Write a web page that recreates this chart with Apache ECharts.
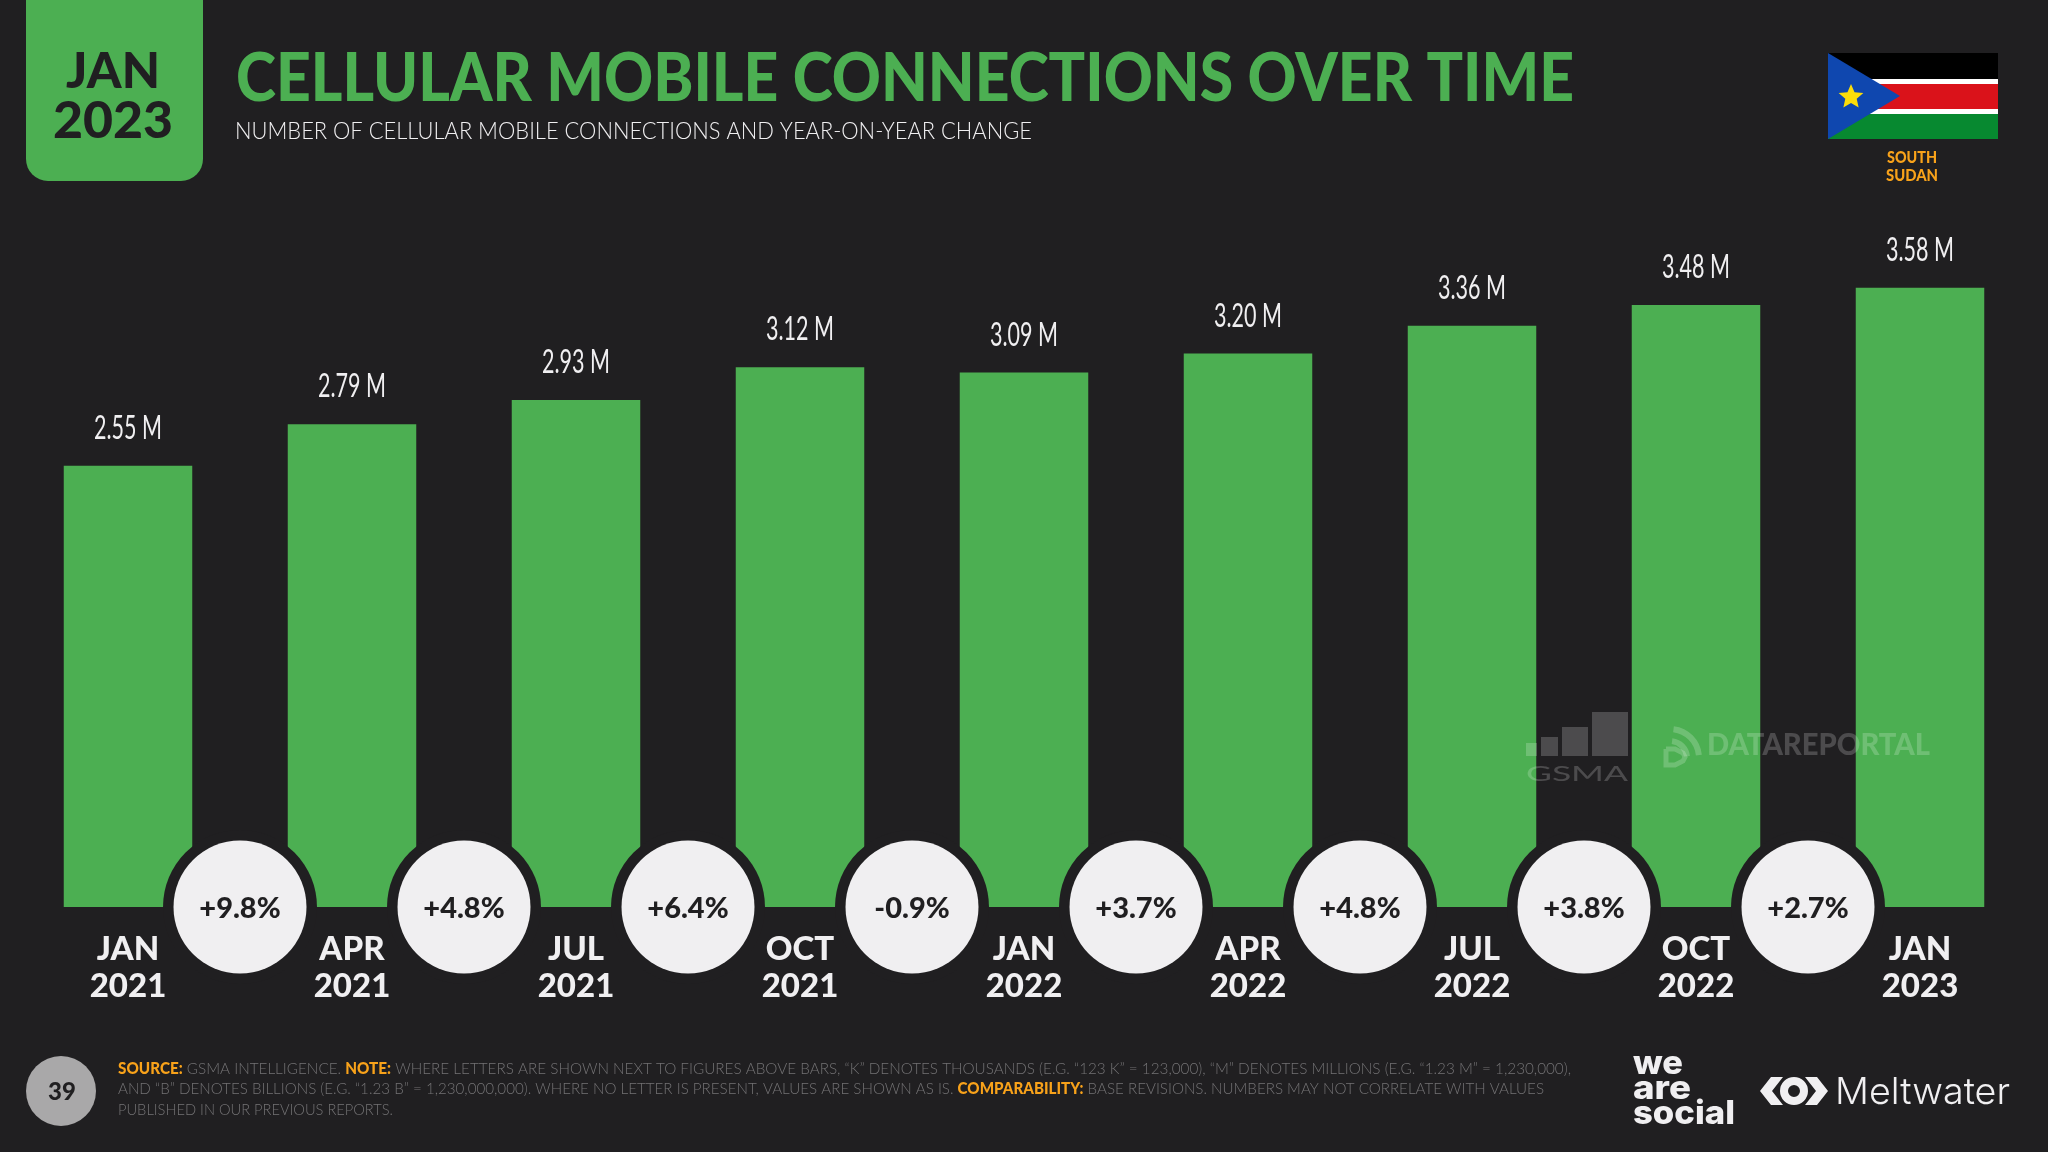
<!DOCTYPE html>
<html>
<head>
<meta charset="utf-8">
<title>Cellular mobile connections over time</title>
<script src="https://cdn.jsdelivr.net/npm/echarts@6/dist/echarts.min.js"></script>
<style>
  html, body { margin: 0; padding: 0; background: #201f21; }
  #chart { width: 2048px; height: 1152px; }
</style>
</head>
<body>
<div id="chart"></div>
<script>
// data
const periods = ["JAN\n2021", "APR\n2021", "JUL\n2021", "OCT\n2021", "JAN\n2022", "APR\n2022", "JUL\n2022", "OCT\n2022", "JAN\n2023"];
const connections = [2.55, 2.79, 2.93, 3.12, 3.09, 3.20, 3.36, 3.48, 3.58];
const changes = ["+9.8%", "+4.8%", "+6.4%", "-0.9%", "+3.7%", "+4.8%", "+3.8%", "+2.7%"];

const BG = "#201f21", GREEN = "#4caf52", ORANGE = "#f8a21a", WHITE = "#f0eff1", GREY = "#737274";
const SANS = "Lato";

// fit text to a measured width with a horizontal scale
const ctx = document.createElement("canvas").getContext("2d");
function textW(s, weight, size, family) {
  ctx.font = `${weight} ${size}px "${family || SANS}"`;
  return ctx.measureText(s).width;
}
function txt(s, x, y, weight, size, color, width, align, family) {
  const sx = width ? width / textW(s, weight, size, family) : 1;
  return { type: "text", x, y, scaleX: sx, z: 100, silent: true,
    style: { text: s, fill: color, fontWeight: weight, fontSize: size, fontFamily: family || SANS,
             textAlign: align || "left", textVerticalAlign: "middle" } };
}
// one footer line made of plain and orange pieces, squeezed to a total width
function footLine(parts, x, y, width) {
  const weightOf = p => p[1] ? 900 : 300;
  const w = parts.map(p => textW(p[0], weightOf(p), 16));
  const sx = width / w.reduce((a, b) => a + b, 0);
  let cur = x;
  return parts.map((p, i) => {
    const el = { type: "text", x: cur, y, scaleX: sx, z: 100, silent: true,
      style: { text: p[0], fill: p[1] ? ORANGE : GREY, fontWeight: weightOf(p), fontSize: 16,
               fontFamily: SANS, textAlign: "left", textVerticalAlign: "middle" } };
    cur += w[i] * sx;
    return el;
  });
}
function starPoints(cx, cy, R, r) {
  const pts = [];
  for (let i = 0; i < 10; i++) {
    const a = -Math.PI / 2 + i * Math.PI / 5, q = i % 2 ? r : R;
    pts.push([cx + q * Math.cos(a), cy + q * Math.sin(a)]);
  }
  return pts;
}
const rect = (x, y, w, h, fill, r) => ({ type: "rect", z: 100, silent: true, shape: { x, y, width: w, height: h, r: r || 0 }, style: { fill } });
const poly = (points, fill) => ({ type: "polygon", z: 100, silent: true, shape: { points }, style: { fill } });
const line = (points, stroke, w) => ({ type: "polyline", z: 100, silent: true, shape: { points }, style: { stroke, lineWidth: w, fill: "none", lineJoin: "miter" } });
const MARK = "rgba(255,255,255,0.2)";

const graphics = [
  // date tab
  rect(26, -30, 177, 211, GREEN, 22),
  txt("JAN", 113, 72, 900, 50, BG, 94, "center"),
  txt("2023", 113, 121, 900, 52, BG, 120, "center"),
  // title
  txt("CELLULAR MOBILE CONNECTIONS OVER TIME", 236, 79.5, 900, 66, GREEN, 1338),
  txt("NUMBER OF CELLULAR MOBILE CONNECTIONS AND YEAR-ON-YEAR CHANGE", 235, 131, 300, 24, WHITE, 797),
  // flag
  rect(1828, 53, 170, 26, "#000000"),
  rect(1828, 79, 170, 5, "#ffffff"),
  rect(1828, 84, 170, 25, "#da121a"),
  rect(1828, 109, 170, 5, "#ffffff"),
  rect(1828, 114, 170, 25, "#078930"),
  poly([[1828, 53], [1900, 96], [1828, 139]], "#0f47af"),
  poly(starPoints(1851, 97, 13, 6), "#fcdd09"),
  txt("SOUTH", 1912, 158, 900, 16, ORANGE, 50, "center"),
  txt("SUDAN", 1912, 176, 900, 16, ORANGE, 52, "center"),
  // watermarks
  rect(1526, 743, 11, 13, MARK), rect(1541, 737, 17, 19, MARK),
  rect(1562, 727, 26, 29, MARK), rect(1592, 712, 36, 44, MARK),
  txt("GSMA", 1526, 774, 400, 21, MARK, 102),
  { type: "arc", z: 100, silent: true, shape: { cx: 1670, cy: 758, r: 29, startAngle: -1.45, endAngle: -0.1 }, style: { stroke: MARK, fill: "none", lineWidth: 6 } },
  { type: "arc", z: 100, silent: true, shape: { cx: 1670, cy: 758, r: 17, startAngle: -1.45, endAngle: -0.1 }, style: { stroke: MARK, fill: "none", lineWidth: 6 } },
  line([[1666, 749], [1675, 749], [1683, 753], [1685, 757], [1683, 761], [1675, 765], [1666, 765], [1666, 749]], MARK, 5),
  txt("DATAREPORTAL", 1707, 745, 900, 30, MARK, 223),
  // footer
  { type: "circle", z: 100, silent: true, shape: { cx: 61, cy: 1091, r: 35 }, style: { fill: "#a9a8a9" } },
  txt("39", 62, 1092, 900, 24, BG, null, "center"),
  ...footLine([["SOURCE:", 1], [" GSMA INTELLIGENCE. ", 0], ["NOTE:", 1], [" WHERE LETTERS ARE SHOWN NEXT TO FIGURES ABOVE BARS, “K” DENOTES THOUSANDS (E.G. “123 K” = 123,000), “M” DENOTES MILLIONS (E.G. “1.23 M” = 1,230,000),", 0]], 118, 1069, 1453),
  ...footLine([["AND “B” DENOTES BILLIONS (E.G. “1.23 B” = 1,230,000,000). WHERE NO LETTER IS PRESENT, VALUES ARE SHOWN AS IS. ", 0], ["COMPARABILITY:", 1], [" BASE REVISIONS. NUMBERS MAY NOT CORRELATE WITH VALUES", 0]], 118, 1089, 1426),
  ...footLine([["PUBLISHED IN OUR PREVIOUS REPORTS.", 0]], 118, 1110, 275),
  // logos: the dot of the i in "social" doubles as the full stop after "are"
  txt("we", 1633, 1064, 800, 33, WHITE, 50, "left", "Inter"),
  txt("are", 1633, 1089, 800, 33, WHITE, 58, "left", "Inter"),
  txt("social", 1633, 1114, 800, 33, WHITE, 102, "left", "Inter"),
  poly([[1760, 1091], [1771, 1077], [1783, 1077], [1772, 1091], [1783, 1105], [1771, 1105]], WHITE),
  poly([[1828, 1091], [1817, 1077], [1805, 1077], [1816, 1091], [1805, 1105], [1817, 1105]], WHITE),
  { type: "circle", z: 100, silent: true, shape: { cx: 1794, cy: 1091, r: 10 }, style: { stroke: WHITE, fill: "none", lineWidth: 8 } },
  txt("Meltwater", 1835, 1093, 300, 37, WHITE, 175, "left", "Inter"),
];

// value labels are a squeezed font, so they go through a custom series
const labelScale = 68 / textW("2.55 M", 400, 33);
function renderValueLabel(params, api) {
  const p = api.coord([api.value(0), api.value(1)]);
  return { type: "text", x: p[0], y: p[1] - 37.5, scaleX: labelScale, silent: true,
    style: { text: api.value(1).toFixed(2) + " M", fill: WHITE, fontFamily: SANS, fontSize: 33,
             textAlign: "center", textVerticalAlign: "middle" } };
}

const chart = echarts.init(document.getElementById("chart"));
chart.setOption({
  animation: false,
  backgroundColor: BG,
  grid: { left: 16, right: 16, top: 215, height: 692, containLabel: false },
  xAxis: [
    { type: "category", data: periods, axisLine: { show: false }, axisTick: { show: false }, splitLine: { show: false },
      axisLabel: { color: WHITE, fontFamily: SANS, fontWeight: 900, fontSize: 33, lineHeight: 37, margin: 24, interval: 0 } },
    // helper scale: circles sit on the boundaries between the bars
    { type: "value", min: 0, max: 9, show: false }
  ],
  yAxis: { type: "value", min: 0, max: 4, show: false },
  series: [
    { type: "bar", data: connections, barWidth: 128.5, itemStyle: { color: GREEN } },
    { type: "custom", renderItem: renderValueLabel, silent: true, z: 3, clip: false,
      encode: { x: 0, y: 1 }, data: connections.map((v, i) => [i, v]) },
    { type: "scatter", xAxisIndex: 1, clip: false, silent: true, z: 3, symbolSize: 154,
      itemStyle: { color: BG, opacity: 1 }, data: changes.map((c, i) => [i + 1, 0]) },
    { type: "scatter", xAxisIndex: 1, clip: false, silent: true, z: 4, symbolSize: 133,
      itemStyle: { color: WHITE, opacity: 1 },
      label: { show: true, position: "inside", offset: [0, 2], color: BG, fontFamily: SANS, fontWeight: 900, fontSize: 29,
                formatter: p => changes[p.dataIndex] },
      data: changes.map((c, i) => [i + 1, 0]) }
  ],
  graphic: { elements: graphics }
});
</script>
</body>
</html>
